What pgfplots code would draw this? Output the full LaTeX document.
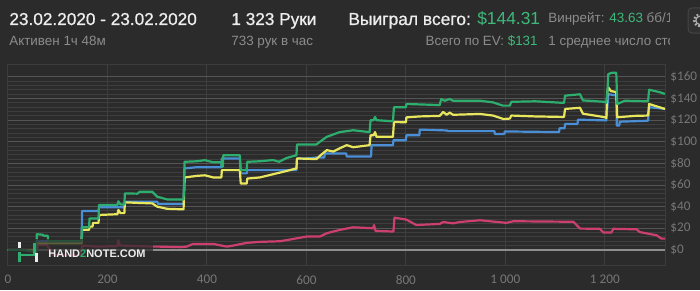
\documentclass[border=0pt]{standalone}
\usepackage{pgfplots}
\pgfplotsset{compat=1.18}
\usepackage{fontspec}
\setmainfont{Liberation Sans}
\newfontfamily\medfont[FakeBold=0.9]{Liberation Sans}
\newfontfamily\tickfont{Carlito}
\definecolor{bg}{HTML}{2B2B2B}
\definecolor{txtwhite}{HTML}{EDEDED}
\definecolor{txtgray}{HTML}{8C8C8C}
\definecolor{txtgreen}{HTML}{3DB97A}
\definecolor{gridmaj}{HTML}{555555}
\definecolor{gridmin}{HTML}{3E3E3E}
\definecolor{gridx}{HTML}{3E3E3E}
\definecolor{axisc}{HTML}{3C3C3C}
\definecolor{zeroc}{HTML}{8E8E8E}
\definecolor{ticktxt}{HTML}{777777}
\definecolor{lgreen}{HTML}{2DAE6E}
\definecolor{lyellow}{HTML}{E8E65C}
\definecolor{lblue}{HTML}{4A8FD6}
\definecolor{lpink}{HTML}{CC3F6E}
\definecolor{boxc}{HTML}{303030}
\definecolor{boxb}{HTML}{444444}

\pgfplotstableread{
h v
0 0
30 0
57 -2
58 14.5
70 14
72 13
80 13
81 8
148 8
149 21
163 21
164 29
182 29
183 41.5
220 41.5
222 45
226 42
234 42
235 52.3
260 52
265 53.8
290 53.8
300 49.2
320 46.7
353 46.7
355 81.5
380 82
396 83
413 81
429 81
430 77
432 77
433 87.6
466 87.6
468 73.8
480 73.8
481 81.5
506 82
533 83.1
545 81.5
560 85
580 87.6
581 97.5
620 97.5
627 100
641 104.6
667 109
694 110.7
727 109
729 120
735 120
738 123
741 120
774 119
776 132
800 132
801 135
868 134
871 139.6
878 138
888 139.6
895 138
949 138
975 136.5
995 133.5
1009 133.5
1012 137
1060 137.5
1118 136
1120 142.7
1150 144
1156 138.3
1200 137
1203 136
1205 145
1207 162.7
1215 164
1223 164
1225 135
1240 138
1287 137.5
1289 148.2
1300 147
1310 146
1321 144.3
}\greendata

\pgfplotstableread{
h v
0 0
57 0
58 8
148 8
149 36
182 36
183 39.5
234 39.5
235 44.6
300 44.6
302 42.5
353 42.5
355 75.4
380 76.5
429 76.5
430 84.6
466 84.6
468 70.8
480 70.8
481 73.8
580 73.8
581 84.6
600 84.6
620 85.5
636 85.5
637 89.2
680 89.2
681 86.4
730 86.4
731 96.9
774 96.9
775 101.5
800 101.5
801 106
827 106
828 111.3
882 110.5
885 109.9
978 109.9
979 107.3
998 107.3
999 109.6
1108 109
1109 112.5
1119 112.5
1120 116.5
1145 116.5
1146 120.5
1203 119.8
1207 144.2
1220 143
1223 143
1224 115
1229 115
1230 118.6
1287 119.5
1289 132
1321 130.5
}\bluedata

\pgfplotstableread{
h v
0 0
57 0
58 6
148 6
149 18.5
163 18.5
164 21.5
170 21.5
171 25
182 25
183 32.3
220 33
222 37
226 34
234 34
235 44
260 43.5
290 43
300 40
320 38
353 37.5
355 67
380 68.5
396 69
413 67
429 67
430 73.8
466 73.8
468 61.5
480 61.5
481 66
506 67
533 70
560 73
580 75.4
581 84.6
620 84
627 87
641 92.3
654 91
667 94
681 96.9
694 95
727 96.9
729 106
735 106
738 109
741 104.6
774 104.6
776 118.4
800 118
801 122.6
828 123.5
868 124
875 127.6
882 125
888 127
895 125
949 125.8
975 124.3
996 121.1
1009 121.5
1012 124.3
1060 123.5
1118 123
1120 130.4
1150 131.5
1156 126
1200 122.8
1203 122
1205 146
1207 150.4
1212 147
1223 146
1225 122.7
1260 124
1287 124.3
1289 135
1321 130.4
}\yellowdata

\pgfplotstableread{
h v
0 0
58 0
60 4.6
78 4.6
90 -4.6
145 -5
150 4
178 3
220 3.5
222 9
225 4
260 3.5
292 3
305 3
346 2.5
359 3
372 5.5
413 5.5
440 3
453 4
480 6.5
506 7.4
547 8
560 9
600 12.3
627 12.3
641 15.4
667 18.5
694 20.9
734 20
736 23
739 17.5
775 17
777 29.8
801 28
821 23
868 24
875 25.8
895 24.5
908 25.8
949 27.4
1002 25
1016 26.5
1137 26
1150 19.7
1190 19.5
1197 16
1213 16
1217 19.5
1264 19
1270 16.5
1304 13.5
1314 10.4
1321 10.4
}\pinkdata

\begin{document}
\begin{tikzpicture}
\fill[bg] (0,0) rectangle (350pt,145pt);
\useasboundingbox (0,0) rectangle (350pt,145pt);

% header
\node[anchor=base west, inner sep=0, text=txtwhite, font=\medfont\fontsize{8.6}{10}\selectfont] at (4.5pt,132.5pt) {23.02.2020 - 23.02.2020};
\node[anchor=base west, inner sep=0, text=txtgray, font=\fontsize{6.7}{8}\selectfont] at (4.5pt,122.25pt) {Активен 1ч 48м};
\node[anchor=base west, inner sep=0, text=txtwhite, font=\medfont\fontsize{8.6}{10}\selectfont] at (115.5pt,132.5pt) {1 323 Руки};
\node[anchor=base west, inner sep=0, text=txtgray, font=\fontsize{6.7}{8}\selectfont] at (115.5pt,122.25pt) {733 рук в час};
\node[anchor=base west, inner sep=0, text=txtwhite, font=\fontsize{8.7}{10}\selectfont] at (174pt,132.5pt) {{\medfont Выиграл всего:} \textcolor{txtgreen}{\$144.31}};
\node[anchor=base east, inner sep=0, text=txtgray, font=\fontsize{6.7}{8}\selectfont] at (269pt,122.25pt) {Всего по EV: \textcolor{txtgreen}{\$131}};
\begin{scope}
\clip (270pt,110pt) rectangle (334.5pt,145pt);
\node[anchor=base west, inner sep=0, text=txtgray, font=\fontsize{6.7}{8}\selectfont] at (274pt,133.75pt) {Винрейт: \textcolor{txtgreen}{43.63} бб/100};
\node[anchor=base west, inner sep=0, text=txtgray, font=\fontsize{6.7}{8}\selectfont] at (274pt,122.25pt) {1 среднее число столов};
\end{scope}
% settings button (partly outside the picture)
\begin{scope}
\clip (0,0) rectangle (350pt,145pt);
\draw[fill=boxc, draw=boxb, line width=0.5pt, rounded corners=2pt] (344pt,128.5pt) rectangle (362pt,141pt);
\draw[txtgray!70, line width=1.1pt, dash pattern=on 0.9pt off 0.9pt] (350pt,134.8pt) circle (2.9pt);
\draw[txtgray!70, line width=0.6pt] (350pt,134.8pt) circle (2.1pt);
\end{scope}

\begin{axis}[
  at={(4pt,12.5pt)}, anchor=south west, scale only axis,
  width=328.5pt, height=100.5pt,
  xmin=0, xmax=1321, ymin=-14, ymax=172,
  axis line style={draw=axisc, line width=0.5pt},
  tick style={draw=none}, major tick length=0pt, minor tick length=0pt,
  yticklabel pos=right,
  ytick={0,20,...,160},
  yticklabels={\$0,\$20,\$40,\$60,\$80,\$100,\$120,\$140,\$160},
  minor y tick num=4,
  xtick={0,200,...,1200},
  xticklabels={0,200,400,600,800,{1 000},{1 200}},
  ymajorgrids, yminorgrids, xmajorgrids,
  major y grid style={draw=gridmaj, line width=0.5pt},
  minor y grid style={draw=gridmin, line width=0.5pt},
  major x grid style={draw=gridx, line width=0.5pt},
  ticklabel style={font=\tickfont\fontsize{6.6}{7}\selectfont, text=ticktxt},
  yticklabel style={anchor=west, inner sep=0pt, xshift=2.5pt},
  xticklabel style={anchor=north, inner sep=0pt, yshift=-5pt},
  every axis plot/.append style={line width=1.1pt, line join=round},
]
\addplot[zeroc, line width=0.8pt] coordinates {(0,0) (1321,0)};
\addplot[lpink] table[x=h,y=v] {\pinkdata};
\addplot[lblue] table[x=h,y=v] {\bluedata};
\addplot[lyellow] table[x=h,y=v] {\yellowdata};
\addplot[lgreen] table[x=h,y=v] {\greendata};
\end{axis}

% watermark
\fill[bg, opacity=0.72] (4pt,12.5pt) rectangle (76.5pt,25.5pt);
\fill[txtwhite] (9.2pt,20.85pt) rectangle (10.4pt,24.2pt);
\fill[lgreen] (9.2pt,14.2pt) rectangle (10.4pt,19.2pt);
\fill[lgreen] (9.2pt,16.8pt) rectangle (17.8pt,18pt);
\fill[lgreen] (16.6pt,16.8pt) rectangle (17.8pt,23.5pt);
\fill[txtwhite] (17.6pt,14pt) rectangle (18.8pt,18.5pt);
\node[anchor=base west, inner sep=0, text=txtwhite, font=\bfseries\fontsize{5.5}{6}\selectfont] at (24pt,16.25pt) {HAND\textcolor{lgreen}{2}NOTE.COM};
\end{tikzpicture}
\end{document}
